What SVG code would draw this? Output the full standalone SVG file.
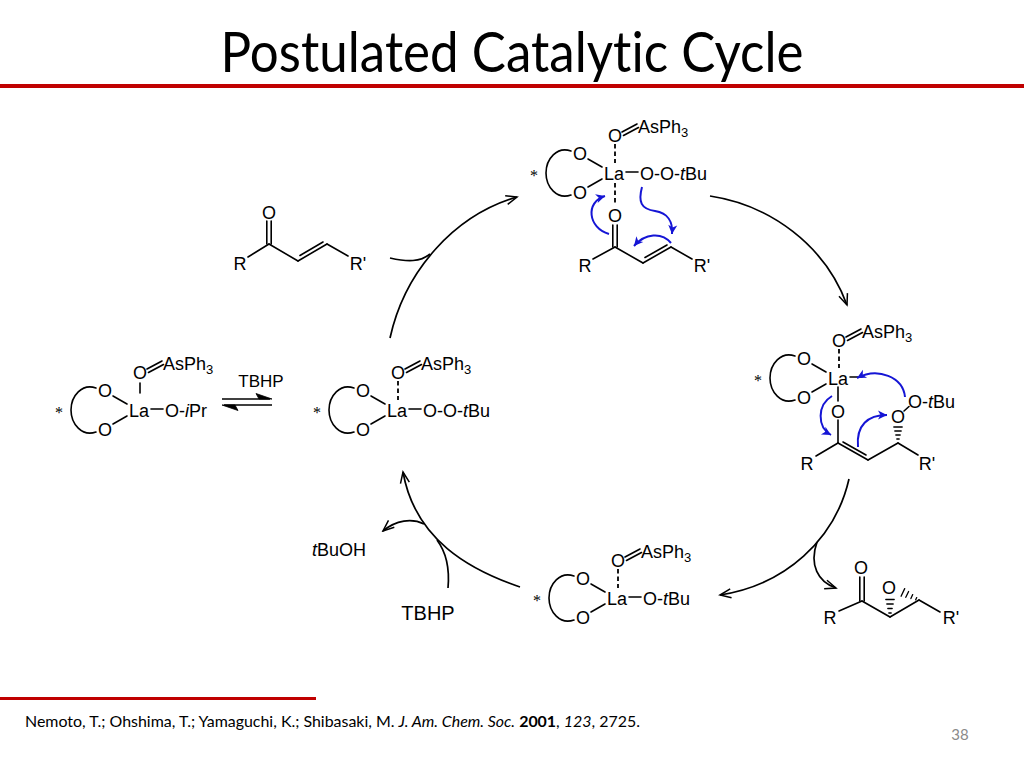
<svg xmlns="http://www.w3.org/2000/svg" xmlns:xlink="http://www.w3.org/1999/xlink" width="1024" height="768" viewBox="0 0 1024 768">
<defs>
<style>
.b{stroke:#000;stroke-width:1.6;fill:none;stroke-linecap:round}
.d{stroke-dasharray:4.5 3;stroke-linecap:butt;stroke-width:1.8}
.t{font-family:"Liberation Sans",Arial,sans-serif;font-size:18px;fill:#000}
.m{text-anchor:middle}
.ast{font-family:"Liberation Serif","Times New Roman",serif;font-size:16px;fill:#000;text-anchor:middle}
.sub{font-size:13px}
.arr{stroke:#000;stroke-width:1.7;fill:none;marker-end:url(#ah)}
.arrn{stroke:#000;stroke-width:1.7;fill:none}
.blue{stroke:#1515d5;stroke-width:2;fill:none;marker-end:url(#bh)}
.ttl{font-variant-ligatures:none;font-feature-settings:"liga" 0}
</style>
<marker id="ah" viewBox="-12 -7 14 14" markerWidth="14" markerHeight="14" refX="0" refY="0" orient="auto" markerUnits="userSpaceOnUse">
<path d="M-11,-4.5 L0,0 L-11,4.5" fill="none" stroke="#000" stroke-width="1.5"/>
</marker>
<marker id="bh" viewBox="-10 -6 12 12" markerWidth="12" markerHeight="12" refX="0" refY="0" orient="auto" markerUnits="userSpaceOnUse">
<path d="M0,0 L-9,-4.5 L-6.5,0 L-9,4.5Z" fill="#1515d5"/>
</marker>
<g id="core">
<text class="t m" x="0" y="6.5">La</text>
<text class="t m" x="-34" y="-13.5">O</text>
<text class="t m" x="-34" y="25.5">O</text>
<line class="b" x1="-26" y1="-14" x2="-12" y2="-6"/>
<line class="b" x1="-26" y1="14" x2="-12" y2="6"/>
<path class="b" d="M-43,-22 C-57,-27 -68,-14 -68,0 C-68,14 -57,27 -43,22"/>
<text class="ast" x="-80" y="8">*</text>
<text class="t m" x="1" y="-31.5">O</text>
<line class="b" x1="8" y1="-41" x2="23" y2="-49"/>
<line class="b" x1="9.5" y1="-37.5" x2="24.5" y2="-45.5"/>
<text class="t" x="24" y="-40">AsPh<tspan class="sub" dy="4">3</tspan></text>
<line class="b" x1="12" y1="-1" x2="24" y2="-1"/>
</g>
</defs>

<!-- Title -->
<text class="ttl" x="512" y="72" text-anchor="middle" font-family="Lato,'Open Sans',sans-serif" font-size="56" textLength="583" lengthAdjust="spacingAndGlyphs" fill="#000">Postulated Catalytic Cycle</text>
<rect x="0" y="84" width="1024" height="4" fill="#c00000"/>

<!-- Connectors -->
<g id="connectors">
<path class="arr" d="M390,338 C405,270 455,215 517,197"/>
<path class="arrn" d="M390,258 C408,262 420,262 430,254"/>
<path class="arr" d="M710,196 C770,205 825,245 847,305"/>
<path class="arr" d="M849,479 C835,540 785,585 720,595"/>
<path class="arr" d="M817,542 C809,565 818,582 836,588"/>
<path class="arr" d="M520,587 C470,570 415,540 403,472"/>
<path class="arrn" d="M448,588 C450,566 446,552 437,540"/>
<path class="arr" d="M424,524 C412,518 396,520 383,531"/>
<!-- equilibrium arrows -->
<line x1="222" y1="399" x2="270" y2="399" stroke="#000" stroke-width="1.7"/>
<polygon points="272,399 256,393.5 259,399" fill="#000" stroke="#000" stroke-width="0.8"/>
<line x1="224" y1="405" x2="272" y2="405" stroke="#000" stroke-width="1.7"/>
<polygon points="222,405 238,410.5 235,405" fill="#000" stroke="#000" stroke-width="0.8"/>
<text class="t m" x="261" y="387" style="font-size:17px">TBHP</text>
<text class="t" x="312" y="556"><tspan font-style="italic">t</tspan>BuOH</text>
<text class="t m" x="428" y="620" style="font-size:20px">TBHP</text>
</g>

<!-- Left complex: La-O-iPr -->
<g id="complex-iPr">
<g transform="translate(139,410)">
<use xlink:href="#core"/>
<line class="b" x1="1" y1="-27" x2="1" y2="-17"/>
<text class="t" x="26" y="6.5">O-<tspan font-style="italic">i</tspan>Pr</text>
</g>
</g>

<!-- Middle-left complex: La-O-O-tBu -->
<g id="complex-OOtBu">
<g transform="translate(397,410)">
<use xlink:href="#core"/>
<line class="b d" x1="1" y1="-29" x2="1" y2="-10"/>
<text class="t" x="26" y="6.5">O-O-<tspan font-style="italic">t</tspan>Bu</text>
</g>
</g>

<!-- Top-left enone -->
<g id="enone">
<text class="t m" x="269" y="218.5">O</text>
<line class="b" x1="266.8" y1="221" x2="266.8" y2="244"/>
<line class="b" x1="271.2" y1="221" x2="271.2" y2="244"/>
<text class="t m" x="240" y="269.5">R</text>
<line class="b" x1="248" y1="257" x2="269" y2="244"/>
<line class="b" x1="269" y1="244" x2="298" y2="261"/>
<line class="b" x1="298" y1="261" x2="327" y2="244"/>
<line class="b" x1="300" y1="255.5" x2="323" y2="242"/>
<line class="b" x1="327" y1="244" x2="348" y2="256"/>
<text class="t m" x="358" y="269.5">R'</text>
</g>

<!-- Top complex with coordinated enone -->
<g id="complex-top">
<g transform="translate(614,173)">
<use xlink:href="#core"/>
<line class="b d" x1="1" y1="-29" x2="1" y2="-10"/>
<text class="t" x="26" y="6.5">O-O-<tspan font-style="italic">t</tspan>Bu</text>
</g>
<line class="b d" x1="615" y1="183" x2="615" y2="205"/>
<text class="t m" x="615" y="222">O</text>
<line class="b" x1="612.8" y1="225" x2="612.8" y2="247"/>
<line class="b" x1="617.2" y1="225" x2="617.2" y2="247"/>
<text class="t m" x="585" y="271.5">R</text>
<line class="b" x1="593" y1="259" x2="615" y2="247"/>
<line class="b" x1="615" y1="247" x2="643" y2="263"/>
<line class="b" x1="643" y1="263" x2="671" y2="247"/>
<line class="b" x1="645" y1="257.5" x2="667" y2="245"/>
<line class="b" x1="671" y1="247" x2="692" y2="259"/>
<text class="t m" x="702" y="271.5">R'</text>
<path class="blue" d="M609,234 C588,228 585,202 605,196"/>
<path class="blue" d="M642,187 C638,202 641,209 655,211 C668,213 673,222 672,234"/>
<path class="blue" d="M671,243 C662,232 645,233 634,246"/>
</g>

<!-- Right complex: enolate -->
<g id="complex-right">
<g transform="translate(838,378)">
<use xlink:href="#core"/>
<line class="b d" x1="1" y1="-29" x2="1" y2="-10"/>
<line class="b" x1="0" y1="9" x2="0" y2="23"/>
</g>
<text class="t m" x="838" y="417.5">O</text>
<line class="b" x1="838" y1="420" x2="838" y2="443"/>
<text class="t m" x="807" y="469.5">R</text>
<line class="b" x1="816" y1="456" x2="838" y2="443"/>
<line class="b" x1="838" y1="443" x2="868" y2="460"/>
<line class="b" x1="843" y1="442" x2="866" y2="455"/>
<line class="b" x1="868" y1="460" x2="898" y2="443"/>
<line class="b" x1="898" y1="443" x2="918" y2="455"/>
<text class="t m" x="927" y="469.5">R'</text>
<g class="b" style="stroke-width:1.3">
<line x1="896.8" y1="439" x2="899.2" y2="439"/>
<line x1="895.8" y1="435" x2="900.2" y2="435"/>
<line x1="894.8" y1="431" x2="901.2" y2="431"/>
<line x1="893.8" y1="427" x2="902.2" y2="427"/>
</g>
<text class="t m" x="898" y="423">O</text>
<line class="b" x1="904" y1="411" x2="909" y2="406.5"/>
<text class="t" x="908" y="408">O-<tspan font-style="italic">t</tspan>Bu</text>
<path class="blue" d="M905,397 C903,377 878,367 857,378"/>
<path class="blue" d="M832,396 C817,405 817,427 831,435"/>
<path class="blue" d="M858,447 C856,425 868,415 887,415"/>
</g>

<!-- Epoxide product -->
<g id="epoxide">
<text class="t m" x="861" y="573.5">O</text>
<line class="b" x1="859.8" y1="577" x2="859.8" y2="601"/>
<line class="b" x1="864.2" y1="577" x2="864.2" y2="601"/>
<text class="t m" x="830" y="623.5">R</text>
<line class="b" x1="839" y1="611" x2="862" y2="601"/>
<line class="b" x1="862" y1="601" x2="890" y2="617"/>
<line class="b" x1="890" y1="617" x2="919" y2="600"/>
<line class="b" x1="919" y1="600" x2="940" y2="612"/>
<text class="t m" x="951" y="623.5">R'</text>
<text class="t m" x="889" y="593.5">O</text>
<g class="b" style="stroke-width:1.3">
<line x1="888.8" y1="613" x2="891.2" y2="613"/>
<line x1="887.8" y1="608.5" x2="892.2" y2="608.5"/>
<line x1="886.8" y1="604" x2="893.2" y2="604"/>
<line x1="885.8" y1="599.5" x2="894.2" y2="599.5"/>
<line x1="916.7" y1="597.6" x2="915.7" y2="599.8"/>
<line x1="912.7" y1="594.6" x2="910.9" y2="598.6"/>
<line x1="908.6" y1="591.5" x2="905.8" y2="597.3"/>
<line x1="904.7" y1="588.6" x2="901.1" y2="596.2"/>
</g>
</g>

<!-- Bottom complex: La-O-tBu -->
<g id="complex-OtBu">
<g transform="translate(617,598)">
<use xlink:href="#core"/>
<line class="b d" x1="1" y1="-29" x2="1" y2="-10"/>
<text class="t" x="26" y="6.5">O-<tspan font-style="italic">t</tspan>Bu</text>
</g>
</g>

<!-- Footer -->
<rect x="0" y="697" width="316" height="3" fill="#c00000"/>
<text x="25" y="727" font-family="Lato,'Open Sans',sans-serif" font-size="15" textLength="615" lengthAdjust="spacingAndGlyphs" fill="#000">Nemoto, T.; Ohshima, T.; Yamaguchi, K.; Shibasaki, M. <tspan font-style="italic">J. Am. Chem. Soc.</tspan> <tspan font-weight="bold">2001</tspan>, <tspan font-style="italic">123</tspan>, 2725.</text>
<text x="960" y="740" text-anchor="middle" font-family="Lato,'Open Sans',sans-serif" font-size="15" fill="#8a8a8a">38</text>
</svg>
